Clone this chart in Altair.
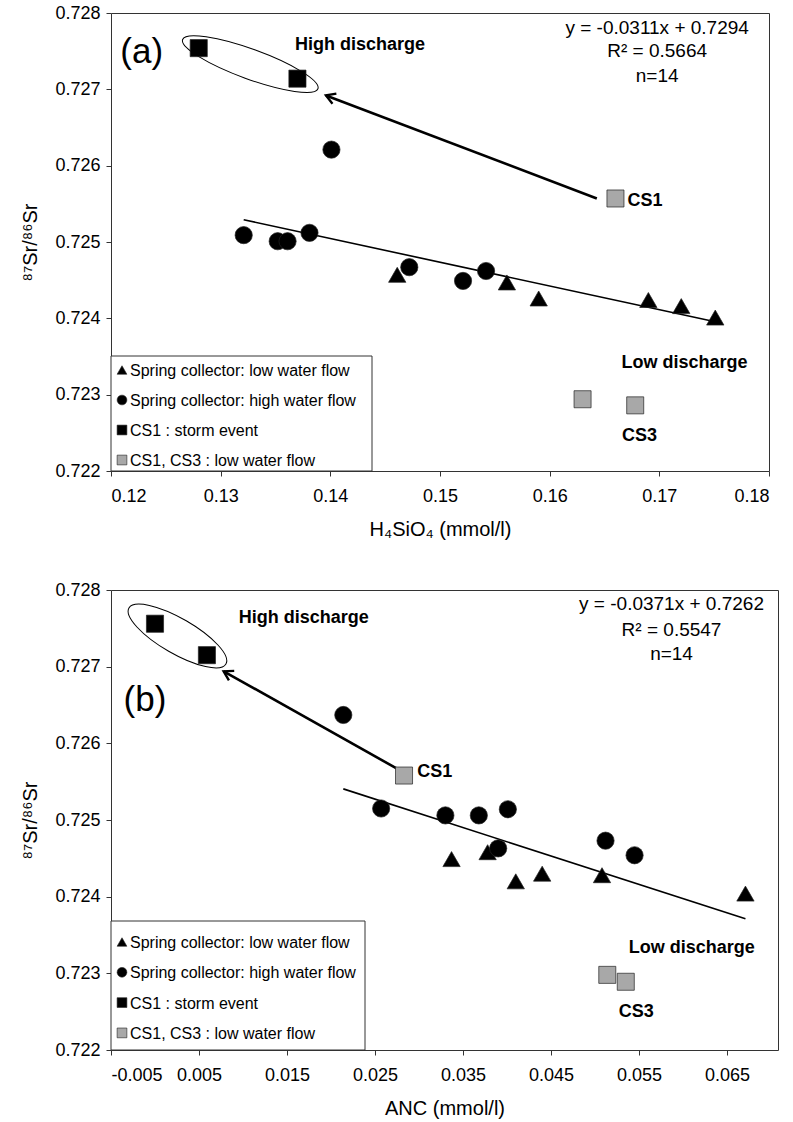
import altair as alt
import pandas as pd

FONT = "Liberation Sans"

GROUPS = ["Spring collector: low water flow", "Spring collector: high water flow",
          "CS1 : storm event", "CS1, CS3 : low water flow"]
SHAPES = ["triangle-up", "circle", "square", "square"]
FILLS = ["#000000", "#000000", "#000000", "#a8a8a8"]
SIZES = [300, 290, 300, 200]

# ---------------- Panel (a): H4SiO4 ----------------
a_low_x = [0.1461, 0.1561, 0.1590, 0.1690, 0.1720, 0.1751]
a_low_y = [0.72457, 0.72447, 0.72426, 0.72424, 0.72416, 0.72401]
a_high_x = [0.1321, 0.1352, 0.1361, 0.1381, 0.1401, 0.1472, 0.1521, 0.1542]
a_high_y = [0.72509, 0.72501, 0.72501, 0.72512, 0.72621, 0.72467, 0.72449, 0.72462]
a_storm_x = [0.1280, 0.1370]
a_storm_y = [0.72754, 0.72714]
a_cs_x = [0.1660, 0.1630, 0.1678]
a_cs_y = [0.72557, 0.72294, 0.72286]
a_fit = [-0.0311, 0.7294]
a_arrow_x = [0.1643, 0.1396]
a_arrow_y = [0.72557, 0.72692]
a_ellipse_x = [0.1327]
a_ellipse_y = [0.72733]
a_eq_text = ["y = -0.0311x + 0.7294", "R² = 0.5664", "n=14"]
a_eq_x = [0.1698, 0.1698, 0.1698]
a_eq_y = [0.72780, 0.72750, 0.72718]
a_bold_text = ["High discharge", "CS1", "Low discharge", "CS3"]
a_bold_x = [0.1427, 0.1687, 0.1723, 0.1682]
a_bold_y = [0.72758, 0.72554, 0.72342, 0.72246]
a_tag = ["(a)"]
a_tag_x = [0.1228]
a_tag_y = [0.72749]
a_xticks = [0.12, 0.13, 0.14, 0.15, 0.16, 0.17, 0.18]

# ---------------- Panel (b): ANC ----------------
b_low_x = [0.0337, 0.0378, 0.0410, 0.0440, 0.0508, 0.0671]
b_low_y = [0.72449, 0.72458, 0.72420, 0.72430, 0.72428, 0.72404]
b_high_x = [0.0214, 0.0257, 0.0330, 0.0368, 0.0390, 0.0401, 0.0512, 0.0545]
b_high_y = [0.72637, 0.72515, 0.72506, 0.72506, 0.72463, 0.72514, 0.72473, 0.72454]
b_storm_x = [0.0000, 0.0059]
b_storm_y = [0.72756, 0.72715]
b_cs_x = [0.0283, 0.0514, 0.0535]
b_cs_y = [0.72558, 0.72298, 0.72289]
b_fit = [-0.0371, 0.7262]
b_arrow_x = [0.0275, 0.0078]
b_arrow_y = [0.72567, 0.72694]
b_ellipse_x = [0.00255]
b_ellipse_y = [0.72740]
b_eq_text = ["y = -0.0371x + 0.7262", "R² = 0.5547", "n=14"]
b_eq_x = [0.0587, 0.0587, 0.0587]
b_eq_y = [0.72782, 0.72748, 0.72717]
b_bold_text = ["High discharge", "CS1", "Low discharge", "CS3"]
b_bold_x = [0.0169, 0.0318, 0.0610, 0.0547]
b_bold_y = [0.72763, 0.72563, 0.72333, 0.72250]
b_tag = ["(b)"]
b_tag_x = [-0.00114]
b_tag_y = [0.72656]
b_xticks = [-0.005, 0.005, 0.015, 0.025, 0.035, 0.045, 0.055, 0.065]

Y_TICKS = [0.722, 0.723, 0.724, 0.725, 0.726, 0.727, 0.728]


def ellipse_path(r):
    k = 0.5523
    return (f"M -1 0 C -1 {-k*r:.4f} {-k:.4f} {-r:.4f} 0 {-r:.4f} "
            f"C {k:.4f} {-r:.4f} 1 {-k*r:.4f} 1 0 "
            f"C 1 {k*r:.4f} {k:.4f} {r:.4f} 0 {r:.4f} "
            f"C {-k:.4f} {r:.4f} -1 {k*r:.4f} -1 0 Z")


CHEVRON = "M 1 -0.6 L 0 0 L 1 0.6"


def points_frame(lx, ly, hx, hy, sx, sy, cx, cy):
    rows = []
    for g, xs, ys in zip(GROUPS, [lx, hx, sx, cx], [ly, hy, sy, cy]):
        for x, y in zip(xs, ys):
            rows.append({"x": x, "y": y, "group": g})
    return pd.DataFrame(rows)


SHAPE_ENC = dict(scale=alt.Scale(domain=GROUPS, range=SHAPES), legend=None)
FILL_ENC = dict(scale=alt.Scale(domain=GROUPS, range=FILLS), legend=None)


def legend_layers(box_w, box_top, h, first_y, step):
    box = alt.Chart(pd.DataFrame({"k": [0]})).mark_rect(
        fill="white", stroke="#333", strokeWidth=1
    ).encode(x=alt.value(0), x2=alt.value(box_w), y=alt.value(box_top), y2=alt.value(h))
    layers = [box]
    for i, g in enumerate(GROUPS):
        row = pd.DataFrame({"group": [g]})
        yy = first_y + step * i
        sym = alt.Chart(row).mark_point(
            filled=True, opacity=1, size=95, stroke="#222", strokeWidth=0.6
        ).encode(
            x=alt.value(11), y=alt.value(yy),
            shape=alt.Shape("group:N", **SHAPE_ENC),
            fill=alt.Fill("group:N", **FILL_ENC),
        )
        lab = alt.Chart(row).mark_text(
            font=FONT, fontSize=16, color="black", align="left", baseline="middle"
        ).encode(x=alt.value(19), y=alt.value(yy + 1), text="group:N")
        layers += [sym, lab]
    return layers


def panel(pts, fit, fit_xs, arrow_x, arrow_y, ell_x, ell_y, eq_text, eq_x, eq_y,
          bold_text, bold_x, bold_y, tag, tag_x, tag_y, xdomain, xticks, label_expr,
          xtitle, w, h, arrow_angle, ell_r, ell_size, ell_angle,
          box_w, box_top, first_y, step):
    xs = alt.Scale(domain=xdomain, nice=False, zero=False)
    ys = alt.Scale(domain=[0.722, 0.728], nice=False, zero=False)
    x_axis = alt.Axis(values=xticks, labelExpr=label_expr, title=xtitle,
                      labelPadding=11, titlePadding=14)
    y_axis = alt.Axis(values=Y_TICKS, format=".3f", title="⁸⁷Sr/⁸⁶Sr",
                      labelPadding=6, titlePadding=14)
    X = alt.X("x:Q", scale=xs, axis=x_axis)
    Y = alt.Y("y:Q", scale=ys, axis=y_axis)

    fit_df = pd.DataFrame({"x": fit_xs})
    fit_line = alt.Chart(fit_df).transform_calculate(
        y=f"{fit[1]} + ({fit[0]}) * datum.x"
    ).mark_line(color="black", strokeWidth=1.6).encode(x=X, y=Y)

    arrow_df = pd.DataFrame({"x": arrow_x, "y": arrow_y, "o": [0, 1]})
    arrow = alt.Chart(arrow_df).mark_line(color="black", strokeWidth=2.6).encode(
        x=X, y=Y, order="o:Q")
    head = alt.Chart(arrow_df.iloc[[1]]).mark_point(
        shape=CHEVRON, filled=False, color="black", strokeWidth=2.4,
        size=330, angle=arrow_angle, opacity=1).encode(x=X, y=Y)

    ell = alt.Chart(pd.DataFrame({"x": ell_x, "y": ell_y})).mark_point(
        shape=ellipse_path(ell_r), filled=False, color="black", strokeWidth=1,
        size=ell_size, angle=ell_angle, opacity=1).encode(x=X, y=Y)

    pts_layer = alt.Chart(pts).mark_point(
        filled=True, opacity=1, stroke="#222", strokeWidth=0.7).encode(
        x=X, y=Y,
        shape=alt.Shape("group:N", **SHAPE_ENC),
        fill=alt.Fill("group:N", **FILL_ENC),
        size=alt.Size("group:N", scale=alt.Scale(domain=GROUPS, range=SIZES), legend=None),
    )

    eq = alt.Chart(pd.DataFrame({"x": eq_x, "y": eq_y, "t": eq_text})).mark_text(
        font=FONT, fontSize=19, color="black", align="center", baseline="middle"
    ).encode(x=X, y=Y, text="t:N")

    bold = alt.Chart(pd.DataFrame({"x": bold_x, "y": bold_y, "t": bold_text})).mark_text(
        font=FONT, fontSize=18, fontWeight="bold", color="black", align="center",
        baseline="middle"
    ).encode(x=X, y=Y, text="t:N")

    tagl = alt.Chart(pd.DataFrame({"x": tag_x, "y": tag_y, "t": tag})).mark_text(
        font=FONT, fontSize=35, color="black", align="center", baseline="middle"
    ).encode(x=X, y=Y, text="t:N")

    leg = legend_layers(box_w, box_top, h, first_y, step)

    return alt.layer(fit_line, arrow, head, ell, pts_layer, eq, bold, tagl, *leg).properties(
        width=w, height=h)


pts_a = points_frame(a_low_x, a_low_y, a_high_x, a_high_y, a_storm_x, a_storm_y, a_cs_x, a_cs_y)
pts_b = points_frame(b_low_x, b_low_y, b_high_x, b_high_y, b_storm_x, b_storm_y, b_cs_x, b_cs_y)

fit_a_x = [min(a_low_x + a_high_x), max(a_low_x + a_high_x)]
fit_b_x = [min(b_low_x + b_high_x), max(b_low_x + b_high_x)]

top = panel(pts_a, a_fit, fit_a_x, a_arrow_x, a_arrow_y, a_ellipse_x, a_ellipse_y,
            a_eq_text, a_eq_x, a_eq_y, a_bold_text, a_bold_x, a_bold_y,
            a_tag, a_tag_x, a_tag_y, [0.12, 0.18], a_xticks,
            "format(datum.value, '.2f')", "H₄SiO₄ (mmol/l)",
            658, 458, 21, 0.208, 20736, 20,
            261, 343, 357, 30)

bottom = panel(pts_b, b_fit, fit_b_x, b_arrow_x, b_arrow_y, b_ellipse_x, b_ellipse_y,
               b_eq_text, b_eq_x, b_eq_y, b_bold_text, b_bold_x, b_bold_y,
               b_tag, b_tag_x, b_tag_y, [-0.005, 0.0708], b_xticks,
               "datum.value < 0 ? '-' + format(-datum.value, '.3f') : format(datum.value, '.3f')",
               "ANC (mmol/l)",
               667, 460, 29, 0.314, 12544, 30,
               254, 331, 352, 30.3)

chart = alt.vconcat(top, bottom, spacing=119, bounds="flush").resolve_scale(
    x="independent", y="independent", shape="independent", fill="independent",
    size="independent"
).properties(
    padding={"left": 20, "top": 3, "right": 0, "bottom": 0},
    background="white",
).configure_view(
    stroke="#333", strokeWidth=1
).configure_axis(
    labelFont=FONT, labelFontSize=18, labelColor="black",
    titleFont=FONT, titleFontSize=20, titleFontWeight="normal", titleColor="black",
    tickSize=5, tickColor="#333", domain=False, grid=False
)

chart.save("out.html", embed_options={"renderer": "svg", "actions": False})
